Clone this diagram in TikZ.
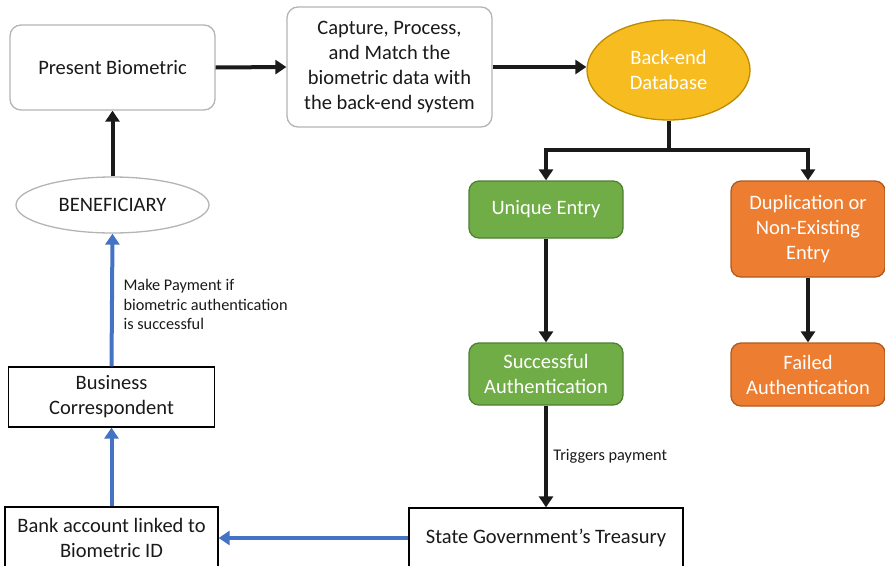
\documentclass[tikz,border=0pt]{standalone}
\usepackage{fontspec}
\setmainfont{Carlito}
\usetikzlibrary{arrows.meta,shapes.geometric}
\definecolor{gborder}{HTML}{B4B4B4}
\definecolor{grfill}{HTML}{70AD47}
\definecolor{grborder}{HTML}{507E32}
\definecolor{orfill}{HTML}{ED7D31}
\definecolor{orborder}{HTML}{AE5A21}
\definecolor{yefill}{HTML}{F7BC20}
\definecolor{yeborder}{HTML}{BC8C00}
\definecolor{bluearr}{HTML}{4472C4}
\definecolor{txt}{HTML}{1A1A1A}
\tikzset{
  mainfont/.style={font=\fontsize{20.5}{25}\selectfont, text=txt, align=center},
  graybox/.style={mainfont, draw=gborder, line width=1.3pt, rounded corners=11pt, fill=white, inner sep=0pt},
  colbox/.style={mainfont, text=white, line width=1.3pt, rounded corners=10pt, inner sep=0pt},
  greenbox/.style={colbox, fill=grfill, draw=grborder},
  orangebox/.style={colbox, fill=orfill, draw=orborder},
  plainbox/.style={mainfont, draw=black, line width=1.3pt, fill=white, inner sep=0pt},
  blackarr/.style={line width=4pt, draw=txt, -{Triangle[length=11pt,width=14pt]}},
  bluearrow/.style={line width=4pt, draw=bluearr, -{Triangle[length=11pt,width=14pt]}},
  small/.style={font=\fontsize{16.3}{19.5}\selectfont, text=txt, align=left}
}
\begin{document}
\begin{tikzpicture}[x=1pt,y=-1pt]
\useasboundingbox (0,0) rectangle (885,565);
% top row
\node[graybox, minimum width=205pt, minimum height=85pt] (present) at (112.5,67.5) {Present Biometric};
\node[graybox, minimum width=205pt, minimum height=120pt] (capture) at (389.5,67) {Capture, Process,\\and Match the\\biometric data with\\the back-end system};
\node[ellipse, draw=yeborder, fill=yefill, line width=1.3pt, minimum width=163pt, minimum height=100pt, inner sep=0pt, mainfont, text=white] (db) at (668.5,70) {Back-end\\Database};
% right branch
\node[greenbox, minimum width=154pt, minimum height=57pt] (unique) at (546,209.5) {Unique Entry};
\node[orangebox, minimum width=154pt, minimum height=96pt] (dup) at (808,229) {Duplication or\\Non-Existing\\Entry};
\node[greenbox, minimum width=154pt, minimum height=62pt] (succ) at (546,374) {Successful\\Authentication};
\node[orangebox, minimum width=154pt, minimum height=63pt] (fail) at (808,374.5) {Failed\\Authentication};
% bottom
\node[plainbox, minimum width=274pt, minimum height=64pt] (treasury) at (546,540) {};
\node[mainfont] at (546,538) {State Government’s Treasury};
\node[plainbox, minimum width=213pt, minimum height=64pt] (bank) at (111.5,539) {};
\node[mainfont] at (111.5,538) {Bank account linked to\\Biometric ID};
\node[plainbox, minimum width=206pt, minimum height=60pt] (bc) at (111.5,397) {Business\\Correspondent};
\node[ellipse, draw=gborder, fill=white, line width=1.3pt, minimum width=193pt, minimum height=56pt, inner sep=0pt, mainfont] (ben) at (112.5,205) {BENEFICIARY};
% connectors
\draw[blackarr] (present.east) -- (capture.west);
\draw[blackarr] (capture.east) -- (db.west |- capture.east);
\coordinate (split) at (668.5,150);
\draw[line width=4pt, draw=txt] (db.south) -- (split);
\draw[blackarr] (split) -| (unique.north);
\draw[blackarr] (split) -| (dup.north);
\draw[blackarr] (unique.south) -- (succ.north);
\draw[blackarr] (dup.south) -- (fail.north);
\draw[blackarr] (succ.south) -- (treasury.north) node[pos=0.5, right=2pt, small] {Triggers payment};
\draw[bluearrow] (treasury.west |- 0,538) -- (bank.east |- 0,538);
\draw[bluearrow] (bank.north) -- (bc.south);
\draw[bluearrow] (bc.north) -- (ben.south);
\draw[blackarr] (ben.north) -- (present.south);
\node[small, anchor=north west] at (120,276) {Make Payment if\\biometric authentication\\is successful};
\end{tikzpicture}
\end{document}
